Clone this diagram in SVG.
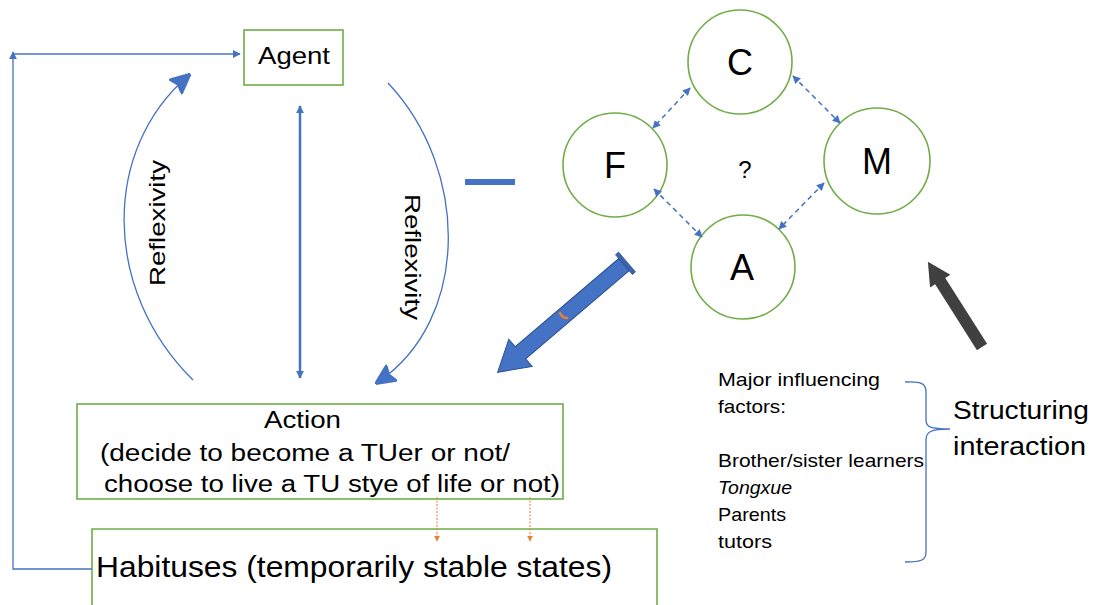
<svg xmlns="http://www.w3.org/2000/svg" width="1093" height="605" viewBox="0 0 1093 605">
  <style>
    .box { fill: #fff; stroke: #70AD47; stroke-width: 1.6; }
    .circ { fill: #fff; stroke: #70AD47; stroke-width: 1.6; }
    .txt { font-family: "Liberation Sans", "DejaVu Sans", sans-serif; fill: #000; }
    .thin { fill: none; stroke: #4472C4; stroke-width: 1.3; }
    .dash { fill: none; stroke: #4472C4; stroke-width: 1.5; stroke-dasharray: 5 4; }
    .orange { fill: none; stroke: #ED7D31; stroke-width: 1; stroke-dasharray: 2 1.5; }
  </style>
  <defs>
    <marker id="tri" viewBox="0 0 10 10" refX="9" refY="5" markerWidth="8" markerHeight="8" markerUnits="userSpaceOnUse" orient="auto-start-reverse">
      <path d="M0,0 L10,5 L0,10 z" fill="#4472C4"/>
    </marker>
    <marker id="triO" viewBox="0 0 10 10" refX="9" refY="5" markerWidth="6" markerHeight="6" markerUnits="userSpaceOnUse" orient="auto">
      <path d="M0,0 L10,5 L0,10 z" fill="#ED7D31"/>
    </marker>
    <marker id="stealth" viewBox="0 0 20 20" refX="17" refY="10" markerWidth="20" markerHeight="20" markerUnits="userSpaceOnUse" orient="auto">
      <path d="M1,1 L20,10 L1,19 L4,10 z" fill="#4472C4" stroke="#4472C4" stroke-width="2.5" stroke-linejoin="round"/>
    </marker>
  </defs>

  <g id="agent">
    <rect class="box" x="244" y="30" width="99" height="55"/>
    <text class="txt" x="258" y="64" font-size="24" textLength="72" lengthAdjust="spacingAndGlyphs">Agent</text>
  </g>

  <g id="reflexivity-left">
    <text class="txt" font-size="22" text-anchor="middle" transform="translate(165,223) rotate(-90)" textLength="126" lengthAdjust="spacingAndGlyphs">Reflexivity</text>
  </g>
  <g id="reflexivity-right">
    <text class="txt" font-size="22" text-anchor="middle" transform="translate(405,257) rotate(90)" textLength="126" lengthAdjust="spacingAndGlyphs">Reflexivity</text>
  </g>

  <g id="action">
    <rect class="box" x="77" y="404" width="486" height="95"/>
    <text class="txt" x="264" y="428" font-size="23" textLength="77" lengthAdjust="spacingAndGlyphs">Action</text>
    <text class="txt" x="100" y="461" font-size="23" textLength="410" lengthAdjust="spacingAndGlyphs">(decide to become a TUer or not/</text>
    <text class="txt" x="104" y="492" font-size="23" textLength="456" lengthAdjust="spacingAndGlyphs">choose to live a TU stye of life or not)</text>
  </g>

  <g id="habituses">
    <path class="box" d="M92,606 L92,529 L657,529 L657,606"/>
    <text class="txt" x="96" y="577" font-size="29" textLength="516" lengthAdjust="spacingAndGlyphs">Habituses (temporarily stable states)</text>
  </g>

  <g id="node-c">
    <circle class="circ" cx="740" cy="62" r="52"/>
    <text class="txt" x="740" y="75" font-size="36" text-anchor="middle">C</text>
  </g>
  <g id="node-f">
    <circle class="circ" cx="615" cy="165" r="52"/>
    <text class="txt" x="615" y="178" font-size="36" text-anchor="middle">F</text>
  </g>
  <g id="node-m">
    <circle class="circ" cx="877" cy="161" r="53"/>
    <text class="txt" x="877" y="174" font-size="36" text-anchor="middle">M</text>
  </g>
  <g id="node-a">
    <circle class="circ" cx="743" cy="267" r="52"/>
    <text class="txt" x="742" y="280" font-size="36" text-anchor="middle">A</text>
  </g>
  <g id="question">
    <text class="txt" x="745" y="178" font-size="24" text-anchor="middle">?</text>
  </g>

  <g id="factors">
    <text class="txt" font-size="19">
      <tspan x="718" y="386" textLength="162" lengthAdjust="spacingAndGlyphs">Major influencing</tspan>
      <tspan x="718" y="413" textLength="68" lengthAdjust="spacingAndGlyphs">factors:</tspan>
      <tspan x="718" y="467" textLength="206" lengthAdjust="spacingAndGlyphs">Brother/sister learners</tspan>
      <tspan x="718" y="494" font-style="italic" textLength="74" lengthAdjust="spacingAndGlyphs">Tongxue</tspan>
      <tspan x="718" y="521" textLength="68" lengthAdjust="spacingAndGlyphs">Parents</tspan>
      <tspan x="718" y="548" textLength="54" lengthAdjust="spacingAndGlyphs">tutors</tspan>
    </text>
  </g>

  <g id="structuring">
    <text class="txt" font-size="25">
      <tspan x="953" y="419" textLength="136" lengthAdjust="spacingAndGlyphs">Structuring</tspan>
      <tspan x="953" y="455" textLength="133" lengthAdjust="spacingAndGlyphs">interaction</tspan>
    </text>
  </g>

  <!-- connectors, drawn on top of the nodes -->
  <g id="connectors">
    <!-- feedback loop from habituses back to agent -->
    <path class="thin" d="M92,569 L13,569 L13,52" marker-end="url(#tri)"/>
    <path class="thin" d="M13,54 L240,54" marker-end="url(#tri)"/>
    <!-- reflexivity arcs -->
    <path class="thin" d="M193,380 C102,290 102,150 188,76" marker-end="url(#stealth)"/>
    <path class="thin" d="M388,83 C470,170 470,320 378,382" marker-end="url(#stealth)"/>
    <!-- agent / action two-way link -->
    <line x1="300" y1="106" x2="300" y2="378" stroke="#4472C4" stroke-width="2.5" marker-start="url(#tri)" marker-end="url(#tri)"/>
    <!-- short bar -->
    <line x1="465" y1="182" x2="515" y2="182" stroke="#4472C4" stroke-width="6"/>
    <!-- action to habituses -->
    <line class="orange" x1="437" y1="497" x2="437" y2="541" marker-end="url(#triO)"/>
    <line class="orange" x1="530" y1="497" x2="530" y2="541" marker-end="url(#triO)"/>
    <!-- ties between C, F, M, A -->
    <line class="dash" x1="690" y1="88" x2="653" y2="128" marker-start="url(#tri)" marker-end="url(#tri)"/>
    <line class="dash" x1="793" y1="76" x2="840" y2="123" marker-start="url(#tri)" marker-end="url(#tri)"/>
    <line class="dash" x1="654" y1="189" x2="702" y2="237" marker-start="url(#tri)" marker-end="url(#tri)"/>
    <line class="dash" x1="824" y1="183" x2="779" y2="229" marker-start="url(#tri)" marker-end="url(#tri)"/>
    <!-- big block arrow towards action -->
    <g transform="translate(627,262) rotate(139.55)">
      <path d="M4,-8 L140,-8 L140,-18 L170,0 L140,18 L140,8 L4,8 z" fill="#4472C4" stroke="#2F528F" stroke-width="1"/>
      <rect x="0" y="-13" width="4" height="26" fill="#3A64AE" stroke="#2F528F" stroke-width="0.8"/>
    </g>
    <path d="M560,313 q2,5 7,5" fill="none" stroke="#ED7D31" stroke-width="2.5" stroke-linecap="round"/>
    <!-- structuring arrow -->
    <g transform="translate(982,347) rotate(-122.4)">
      <path d="M0,-6 L78,-6 L78,-12 L101,0 L78,12 L78,6 L0,6 z" fill="#404040"/>
    </g>
    <!-- brace -->
    <path class="thin" d="M905,382 C922,381 926,384 926,392 L926,420 C926,427 930,429 950,429 C930,429 926,432 926,440 L926,552 C926,560 922,562 905,562"/>
  </g>
</svg>
